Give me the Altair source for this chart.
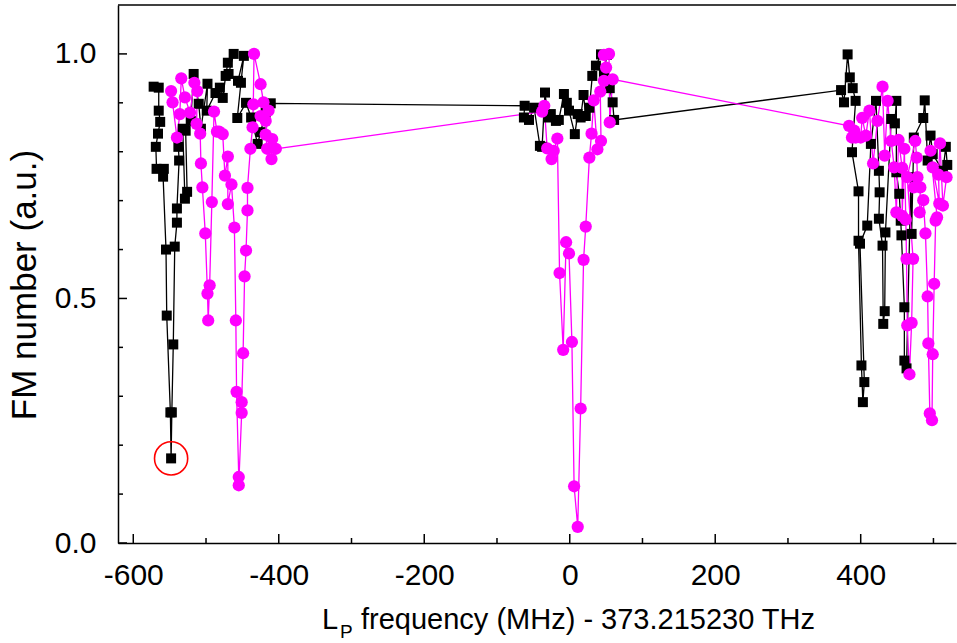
import altair as alt
import pandas as pd

# ---------------- data ----------------
black_freq = [
    -572, -565, -565, -563, -566, -569, -568, -558, -559, -555, -554, -549, -548, -547, -545,
    -543, -540, -540, -537, -538, -532, -529, -526, -528, -521, -517, -510, -507, -498, -499,
    -487, -481, -477, -473, -470, -462, -469, -456, -448, -452, -457, -445, -438, -429, -425,
    -418, -411,
    -62, -63, -56, -49, -41, -38, -34, -30, -26, -19, -15, -8, -4, -1, 7, 11, 15, 19, 22, 27,
    31, 36, 43, 51, 47, 55, 59, 61,
    373, 377, 382, 385, 389, 393, 388, 397, 397, 401, 403, 405, 399, 409, 414, 421, 425, 426,
    425, 430, 431, 433, 434, 442, 447, 449, 449, 453, 455, 456, 460, 460, 463, 469, 470, 473,
    486, 488, 492, 496, 499, 513, 517, 519,
]
black_fm = [
    0.933, 0.931, 0.884, 0.861, 0.837, 0.810, 0.765, 0.765, 0.749, 0.600, 0.465, 0.267, 0.173, 0.267, 0.406,
    0.606, 0.655, 0.684, 0.782, 0.810, 0.847, 0.704, 0.718, 0.843, 0.863, 0.959, 0.898, 0.847, 0.939, 0.884,
    0.920, 0.931, 0.910, 0.955, 0.982, 1.000, 0.959, 0.945, 0.996, 0.941, 0.869, 0.900, 0.870, 0.816, 0.840,
    0.880, 0.899,
    0.894, 0.870, 0.865, 0.890, 0.812, 0.810, 0.921, 0.870, 0.877, 0.863, 0.865, 0.918, 0.900, 0.884, 0.836,
    0.877, 0.870, 0.916, 0.873, 0.890, 0.955, 0.976, 0.999, 0.998, 0.960, 0.930, 0.901, 0.865,
    0.926, 0.901, 0.999, 0.952, 0.930, 0.904, 0.799, 0.719, 0.618, 0.363, 0.288, 0.329, 0.612, 0.649, 0.816,
    0.904, 0.761, 0.717, 0.663, 0.608, 0.448, 0.474, 0.635, 0.867, 0.858, 0.904, 0.758, 0.714, 0.659, 0.629,
    0.482, 0.373, 0.357, 0.748, 0.632, 0.829, 0.869, 0.905, 0.782, 0.833, 0.795, 0.761, 0.810, 0.773,
]

magenta_freq = [
    -548, -546, -540, -536, -534, -529, -522, -516, -512, -513, -508, -507, -505, -501, -498,
    -497, -495, -492, -489, -485, -482, -477, -474, -470, -470, -465, -461, -459, -458, -455,
    -455, -451, -451, -449, -447, -445, -443, -443, -439, -436, -435, -434, -425, -421, -425,
    -418, -414, -418, -416, -409, -410, -404,
    -38, -35, -31, -25, -22, -17, -14, -9, -5, -1, 3, 6, 11, 15, 19, 22, 27, 30, 33, 38, 43,
    42, 47, 50, 47, 54, 55, 59,
    384, 388, 391, 393, 400, 402, 407, 412, 417, 423, 430, 433, 437, 442, 446, 449, 452, 457,
    457, 460, 462, 463, 464, 467, 470, 472, 464, 475, 477, 478, 473, 482, 481, 486, 489, 492,
    493, 495, 498, 499, 501, 503, 505, 496, 499, 508, 507, 509, 513, 518,
]
magenta_fm = [
    0.924, 0.901, 0.829, 0.877, 0.950, 0.911, 0.880, 0.941, 0.924, 0.857, 0.837, 0.776, 0.727, 0.633, 0.510,
    0.455, 0.527, 0.697, 0.882, 0.841, 0.841, 0.836, 0.751, 0.790, 0.693, 0.733, 0.645, 0.455, 0.309, 0.135,
    0.118, 0.266, 0.288, 0.388, 0.545, 0.598, 0.680, 0.726, 0.806, 0.850, 0.897, 1.000, 0.938, 0.901, 0.873,
    0.863, 0.884, 0.835, 0.806, 0.826, 0.785, 0.806,
    0.882, 0.894, 0.807, 0.785, 0.802, 0.827, 0.552, 0.395, 0.615, 0.592, 0.411, 0.116, 0.033, 0.275, 0.579,
    0.647, 0.788, 0.837, 0.905, 0.805, 0.822, 0.923, 0.945, 0.972, 0.998, 1.000, 0.860, 0.948,
    0.853, 0.829, 0.843, 0.829, 0.829, 0.869, 0.833, 0.884, 0.776, 0.863, 0.933, 0.792, 0.904, 0.822, 0.768,
    0.676, 0.824, 0.767, 0.669, 0.806, 0.661, 0.581, 0.445, 0.345, 0.450, 0.581, 0.748, 0.822, 0.788, 0.748,
    0.727, 0.727, 0.676, 0.701, 0.633, 0.504, 0.408, 0.265, 0.251, 0.386, 0.530, 0.659, 0.666, 0.802, 0.768,
    0.694, 0.753, 0.817, 0.690, 0.748,
]

highlight_freq = [-548]
highlight_fm = [0.173]

x_major = [-600, -400, -200, 0, 200, 400]
x_minor = [-500, -300, -100, 100, 300, 500]
y_major = [0.0, 0.5, 1.0]
y_minor = [0.1, 0.2, 0.3, 0.4, 0.6, 0.7, 0.8, 0.9]

x_title_L = "L"
x_title_sub = "P"
x_title_rest = "frequency (MHz) - 373.215230 THz"
y_title = "FM number (a.u.)"

# ---------------- layout ----------------
W, H = 838, 538
FONT = "Liberation Sans"
TICK_FS = 30
XTITLE_FS = 29
YTITLE_FS = 35

xscale = alt.Scale(domain=[-621, 531], nice=False, zero=False)
yscale = alt.Scale(domain=[0, 1.1], nice=False, zero=False)

black = pd.DataFrame({"f": black_freq, "v": black_fm, "i": list(range(len(black_freq)))})
magenta = pd.DataFrame({"f": magenta_freq, "v": magenta_fm, "i": list(range(len(magenta_freq)))})
hl = pd.DataFrame({"f": highlight_freq, "v": highlight_fm})

x_axis = alt.Axis(values=x_major, labelExpr="'' + datum.value", ticks=False, tickSize=0,
                  grid=False, domainColor="black", domainWidth=1.5, labelFont=FONT,
                  labelFontSize=TICK_FS, labelColor="black", labelPadding=17, title=None)
y_axis = alt.Axis(values=y_major, format=".1f", ticks=False, tickSize=0, grid=False,
                  domainColor="black", domainWidth=1.5, labelFont=FONT, labelFontSize=TICK_FS,
                  labelColor="black", labelPadding=22, title=None)

X = alt.X("f:Q", scale=xscale, axis=x_axis)
Y = alt.Y("v:Q", scale=yscale, axis=y_axis)

black_line = alt.Chart(black).mark_line(color="black", strokeWidth=1.3).encode(x=X, y=Y, order="i:Q")
black_pts = alt.Chart(black).mark_point(shape="square", filled=True, size=100, color="black",
                                         opacity=1).encode(x=X, y=Y)
mag_line = alt.Chart(magenta).mark_line(color="#FF00FF", strokeWidth=1.3).encode(x=X, y=Y, order="i:Q")
mag_pts = alt.Chart(magenta).mark_point(shape="circle", filled=True, size=150, color="#FF00FF",
                                         opacity=1).encode(x=X, y=Y)
ring = alt.Chart(hl).mark_point(shape="circle", filled=False, size=1100, color="#FF0000",
                                strokeWidth=1.6, opacity=1).encode(x=X, y=Y)

# inward ticks (same scales and axis specs so the shared axes stay intact)
def xticks(vals, length):
    return alt.Chart(pd.DataFrame({"f": vals})).mark_rule(color="black", strokeWidth=1.5).encode(
        x=X, y=alt.value(H - length), y2=alt.value(H))

def yticks(vals, length):
    return alt.Chart(pd.DataFrame({"v": vals})).mark_rule(color="black", strokeWidth=1.5).encode(
        y=Y, x=alt.value(0), x2=alt.value(length))

top_line = alt.Chart(pd.DataFrame({"a": [0]})).mark_rule(color="black", strokeWidth=1.5).encode(
    x=alt.value(0), x2=alt.value(W), y=alt.value(0))

def label(txt, x, y, size, angle=0, align="left", baseline="alphabetic"):
    return alt.Chart(pd.DataFrame({"s": [txt]})).mark_text(
        font=FONT, fontSize=size, color="black", align=align, baseline=baseline, angle=angle
    ).encode(text="s:N", x=alt.value(x), y=alt.value(y))

t_L = label(x_title_L, 204, 624, XTITLE_FS)
t_P = label(x_title_sub, 222, 633, 19)
t_rest = label(x_title_rest, 243, 624, XTITLE_FS)
t_y = label(y_title, -93, 280, YTITLE_FS, angle=270, align="center", baseline="middle")

chart = alt.layer(
    black_line, mag_line, black_pts, mag_pts, ring,
    xticks(x_major, 9), xticks(x_minor, 5), yticks(y_major, 9), yticks(y_minor, 5),
    top_line, t_L, t_P, t_rest, t_y,
).properties(
    width=W, height=H,
    autosize=alt.AutoSizeParams(type="none"),
    padding={"left": 118, "top": 5, "right": 1, "bottom": 100},
    background="white",
).configure_view(stroke=None)

chart.save("out.html", embed_options={"renderer": "svg", "actions": False})
